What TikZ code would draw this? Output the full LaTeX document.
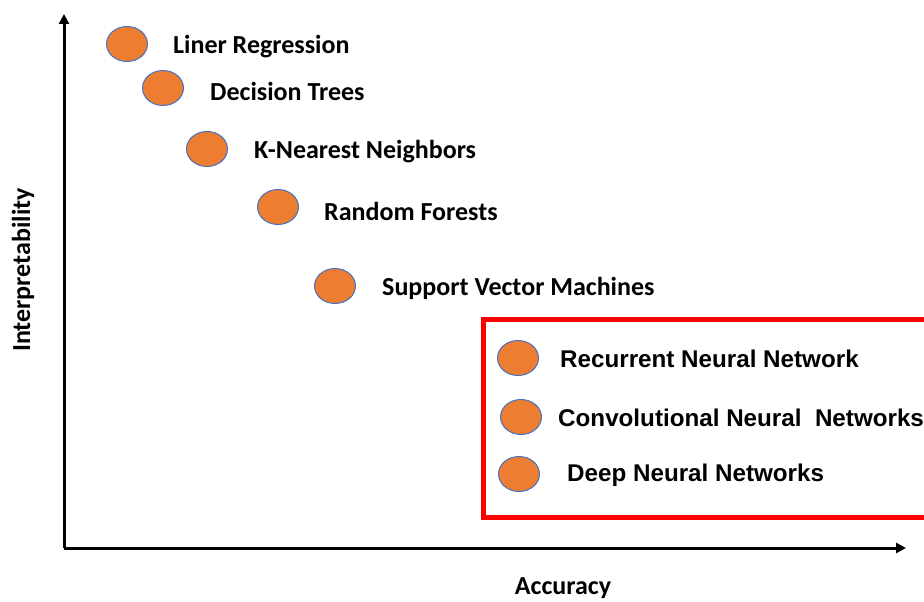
\documentclass[tikz,border=0pt]{standalone}
\usepackage{fontspec}
\newfontfamily\calib{Carlito}
\newfontfamily\arialf{Liberation Sans}
\usetikzlibrary{shapes.geometric,arrows.meta}
\definecolor{dotorange}{HTML}{ED7D31}
\definecolor{dotedge}{HTML}{4472C4}
\tikzset{
  dot/.style={ellipse,fill=dotorange,draw=dotedge,line width=1pt,minimum width=41pt,minimum height=35pt,inner sep=0pt},
  lbl/.style={anchor=west,inner sep=0pt,yshift=-2pt,font=\calib\bfseries\fontsize{26}{30}\selectfont},
  blbl/.style={anchor=west,inner sep=0pt,yshift=-1pt,font=\arialf\bfseries\fontsize{24.2}{28}\selectfont},
  axis/.style={line width=3pt,-{Triangle[length=10pt,width=10pt]}},
  axlbl/.style={inner sep=0pt,font=\calib\bfseries\fontsize{26}{30}\selectfont}
}
\begin{document}
\begin{tikzpicture}[x=1pt,y=-1pt]
\useasboundingbox (0,0) rectangle (924,602);
% axes
\coordinate (o) at (64,548);
\coordinate (ytip) at (64,14);
\coordinate (xtip) at (906,548);
\draw[axis] (o) -- (ytip);
\draw[axis] (o) -- (xtip);
\node[axlbl,rotate=90] (ylab) at (23,270) {Interpretability};
\node[axlbl] (xlab) at (563,588) {Accuracy};
% red box
\draw[red,line width=5pt] (926,319) -- (483,319) -- (483,517) -- (926,517);
% dots
\node[dot] (d1) at (127,44) {};
\node[dot] (d2) at (163,88) {};
\node[dot] (d3) at (207,149) {};
\node[dot] (d4) at (278,207) {};
\node[dot] (d5) at (335,286) {};
\node[dot] (d6) at (518,358) {};
\node[dot] (d7) at (521,417) {};
\node[dot] (d8) at (519,474) {};
% labels
\node[lbl] (t1) at (173,45) {Liner Regression};
\node[lbl] (t2) at (210,89) {Decision Trees};
\node[lbl] (t3) at (254,150) {K-Nearest Neighbors};
\node[lbl] (t4) at (324,209) {Random Forests};
\node[lbl] (t5) at (382,286) {Support Vector Machines};
\node[blbl] (t6) at (560,358) {Recurrent Neural Network};
\node[blbl] (t7) at (558,417) {Convolutional Neural\ \ Networks};
\node[blbl] (t8) at (567,474) {Deep Neural Networks};
\end{tikzpicture}
\end{document}
